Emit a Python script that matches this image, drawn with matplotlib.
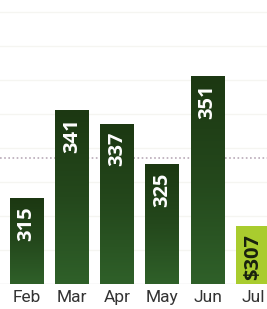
import numpy as np
import matplotlib.pyplot as plt
from matplotlib.colors import LinearSegmentedColormap

months = ['Feb', 'Mar', 'Apr', 'May', 'Jun', 'Jul']
values = [315, 341, 337, 325, 351, 307]
labels = ['315', '341', '337', '325', '351', '$307']
avg_line = 327

ymin, ymax = 290, 373.5
bar_w = 0.75

fig = plt.figure(figsize=(2.67, 3.09), dpi=100)
ax = fig.add_axes([0, 25 / 309, 1, 284 / 309])

green = LinearSegmentedColormap.from_list('g', ['#1c3812', '#24481c', '#2f6029'])
grad = np.linspace(0, 1, 100).reshape(-1, 1)

x = np.arange(len(months))
for i, (m, v) in enumerate(zip(months, values)):
    if m == 'Jul':
        ax.bar(x[i], v - ymin, bottom=ymin, width=bar_w, color='#a9cc2e', zorder=2)
        tc = '#17200e'
    else:
        ax.imshow(grad, cmap=green, aspect='auto', zorder=2,
                  extent=[x[i] - bar_w / 2, x[i] + bar_w / 2, ymin, v])
        tc = 'white'
    ax.text(x[i], v - 2.2, labels[i], rotation=90, ha='center', va='top',
            color=tc, fontsize=14.5, fontweight='bold', family='Open Sans', zorder=3)

for g in [300, 310, 320, 330, 340, 350, 360, 370]:
    ax.axhline(g, color='#f5f5f1', lw=1, zorder=0)
ax.axhline(avg_line, color='#b9aab8', lw=1.2, ls=(0, (1, 1.5)), zorder=1)
ax.axhline(ymin, color='#e2e2e2', lw=1, zorder=1)

ax.set_xlim(-26.5 / 45.25, (267 - 26.5) / 45.25)
ax.set_ylim(ymin, ymax)
ax.set_xticks(x)
ax.set_xticklabels(months, fontsize=12.5, color='#333333', family='Roboto')
ax.tick_params(axis='x', length=0, pad=4)
ax.set_yticks([])
for s in ax.spines.values():
    s.set_visible(False)

fig.savefig('out.png', dpi=100)
